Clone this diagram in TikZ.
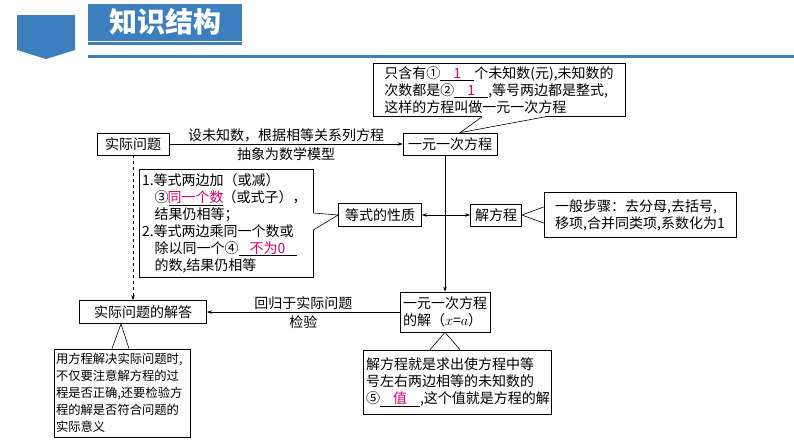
\documentclass[tikz,border=0pt]{standalone}
\usepackage{fontspec}
\setmainfont{Noto Sans CJK SC}
\usetikzlibrary{arrows.meta,calc}
\definecolor{hb}{HTML}{3D7EBF}
\definecolor{mg}{HTML}{D6006F}
\newcommand{\blank}[2]{\underline{\makebox[#1pt]{\color{mg}#2}}}
\begin{document}
\begin{tikzpicture}[x=1pt,y=-1pt,
  bx/.style={draw,fill=white,line width=0.7pt,inner sep=3pt,font=\fontsize{14}{17}\selectfont},
  tb/.style={bx,align=left,inner sep=3pt},
  lb/.style={font=\fontsize{14}{17}\selectfont,inner sep=1pt},
  arr/.style={line width=0.6pt,-{Stealth[length=5pt,width=3.5pt]}},
  co/.style={line width=0.6pt}]
\useasboundingbox (0,0) rectangle (794,447);
% header
\fill[hb] (17,15) -- (75,15) -- (75,50) -- (46,59) -- (17,50) -- cycle;
\fill[hb] (88,4) rectangle (242,45);
\draw[white,line width=0.8pt] (88,41) -- (242,41);
\fill[hb] (88,55) rectangle (794,58);
\node[text=white,font=\fontsize{28}{30}\selectfont\bfseries] (title) at (165,22) {知识结构};
% nodes
\node[tb,minimum width=252,minimum height=53] (def) at (499,90) {只含有①\blank{34}{1}个未知数(元),未知数的\\次数都是②\blank{34}{1},等号两边都是整式,\\这样的方程叫做一元一次方程};
\node[bx,minimum width=94,minimum height=22] (yy) at (450,144) {一元一次方程};
\node[bx,minimum width=72,minimum height=22] (sj) at (133,144) {实际问题};
\node[tb,text width=168,minimum height=108] (prop) at (226,223) {1.等式两边加（或减）\\\hspace*{0.9em}③\blank{54}{同一个数}（或式子），\\\hspace*{0.9em}结果仍相等；\\2.等式两边乘同一个数或\\\hspace*{0.9em}除以同一个④\blank{58}{不为0}\\\hspace*{0.9em}的数,结果仍相等};
\node[bx,minimum width=83,minimum height=23] (xz) at (380,215) {等式的性质};
\node[bx,minimum width=51,minimum height=22] (jf) at (496,215) {解方程};
\node[tb,minimum width=192,minimum height=45] (step) at (640,215) {一般步骤：去分母,去括号,\\移项,合并同类项,系数化为1};
\node[tb,minimum width=80,minimum height=40] (jie) at (445,312) {一元一次方程\\的解（$x$=$a$）};
\node[bx,minimum width=127,minimum height=23] (jd) at (143,312) {实际问题的解答};
\node[tb,text width=132,minimum height=88,inner sep=2pt,font=\fontsize{12.3}{17}\selectfont] (lbx) at (122,393) {用方程解决实际问题时,\\不仅要注意解方程的过\\程是否正确,还要检验方\\程的解是否符合问题的\\实际意义};
\node[tb,text width=182,minimum height=64] (rbx) at (457,382) {解方程就是求出使方程中等\\号左右两边相等的未知数的\\⑤\blank{40}{值},这个值就是方程的解};
% connectors
\draw[arr] (sj) -- (yy) node[lb,midway,above=1pt] (l1) {设未知数，根据相等关系列方程} node[lb,midway,below=2pt] (l2) {抽象为数学模型};
\draw[arr,dashed] (sj.south) -- (sj.south |- jd.north);
\draw[arr] (yy.south -| jie.north) -- (jie.north);
\draw[arr,{Stealth[length=5pt,width=3.5pt]}-{Stealth[length=5pt,width=3.5pt]}] (xz) -- (jf);
\draw[arr] (jie) -- (jd) node[lb,midway,above=1pt] (l3) {回归于实际问题} node[lb,midway,below=2pt] (l4) {检验};
% callouts
\coordinate (a1) at ([xshift=-17pt]def.south); \coordinate (b1) at ([xshift=46pt]def.south);
\fill[white] ([yshift=1pt]a1) rectangle ([yshift=-0.5pt]b1);
\draw[co] (a1) -- ([xshift=10pt]yy.north) -- (b1);
\coordinate (a2) at ([yshift=10pt]prop.east); \coordinate (b2) at ([yshift=-7pt]prop.east);
\fill[white] ([xshift=-0.5pt]a2) rectangle ([xshift=0.8pt]b2);
\draw[co] (a2) -- (xz.west) -- (b2);
\coordinate (a3) at ([yshift=8pt]step.west); \coordinate (b3) at ([yshift=-8pt]step.west);
\fill[white] ([xshift=-0.8pt]a3) rectangle ([xshift=0.5pt]b3);
\draw[co] (a3) -- (jf.east) -- (b3);
\coordinate (a4) at ([xshift=-10pt]lbx.north); \coordinate (b4) at ([xshift=7pt]lbx.north);
\fill[white] ([yshift=0.8pt]a4) rectangle ([yshift=-0.5pt]b4);
\draw[co] (a4) -- ([xshift=-22pt]jd.south) -- (b4);
\coordinate (a5) at ([xshift=-27pt]rbx.north); \coordinate (b5) at ([xshift=3pt]rbx.north);
\fill[white] ([yshift=0.8pt]a5) rectangle ([yshift=-0.5pt]b5);
\draw[co] (a5) -- (jie.south) -- (b5);
\end{tikzpicture}
\end{document}
